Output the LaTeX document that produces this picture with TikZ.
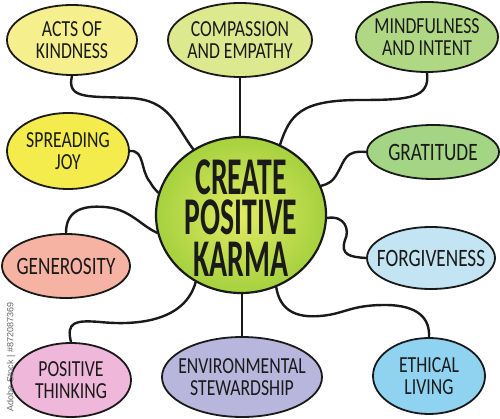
\documentclass[tikz,border=0pt]{standalone}
\usepackage{fontspec}
\usetikzlibrary{shapes.geometric}
\newfontfamily\handfont[FakeStretch=0.77]{Carlito}
\newfontfamily\bigfont[FakeStretch=0.56]{Carlito}
\newfontfamily\wmfont{Liberation Sans}
\definecolor{cAK}{HTML}{F5EF8E}
\definecolor{cCO}{HTML}{DDE98F}
\definecolor{cMI}{HTML}{AFD784}
\definecolor{cGR}{HTML}{A3D585}
\definecolor{cSJ}{HTML}{F3EC4C}
\definecolor{cGE}{HTML}{F6B3A3}
\definecolor{cFO}{HTML}{C3E4F3}
\definecolor{cPT}{HTML}{EFB8DA}
\definecolor{cEN}{HTML}{B9B6DD}
\definecolor{cET}{HTML}{8FD3F1}
\definecolor{cIn}{HTML}{E2EB62}
\definecolor{cOut}{HTML}{A6D13E}
\definecolor{ink}{HTML}{1A1A1A}
\tikzset{
  bubble/.style={ellipse, draw=ink, line width=1.8pt, inner sep=0pt},
  lbl/.style={font=\handfont\fontsize{23}{22}\selectfont, text=ink, align=center, inner sep=0pt},
  lblone/.style={font=\handfont\fontsize{25}{22}\selectfont, text=ink, align=center, inner sep=0pt},
  bigtxt/.style={font=\bigfont\bfseries\fontsize{53}{42}\selectfont, text=ink, inner sep=0pt, text height=34pt, text depth=0pt},
  link/.style={draw=ink, line width=2.4pt, line cap=round}
}
\begin{document}
\begin{tikzpicture}[x=1pt,y=-1pt]
\useasboundingbox (0,0) rectangle (500,419);
% central
\node[ellipse, draw=ink, line width=2.2pt, inner sep=0pt, minimum width=170pt, minimum height=156pt,
  inner color=cIn, outer color=cOut] (c) at (241,215) {};
\node[bigtxt] (ct1) at (241,178) {CREATE};
\node[bigtxt] (ct2) at (241,218) {POSITIVE};
\node[bigtxt] (ct3) at (241,260) {KARMA};
% bubbles
\node[bubble, fill=cAK, minimum width=130pt, minimum height=70pt] (ak) at (72,40) {};
\node[bubble, fill=cCO, minimum width=144pt, minimum height=74pt] (co) at (240,40) {};
\node[bubble, fill=cMI, minimum width=142pt, minimum height=70pt] (mi) at (427,37) {};
\node[bubble, fill=cGR, minimum width=132pt, minimum height=54pt] (gr) at (433,152) {};
\node[bubble, fill=cSJ, minimum width=122pt, minimum height=76pt] (sj) at (68,151) {};
\node[bubble, fill=cGE, minimum width=128pt, minimum height=64pt] (ge) at (66,266) {};
\node[bubble, fill=cFO, minimum width=128pt, minimum height=62pt] (fo) at (431,258) {};
\node[bubble, fill=cPT, minimum width=120pt, minimum height=74pt] (pt) at (71,380) {};
\node[bubble, fill=cEN, minimum width=160pt, minimum height=80pt] (en) at (242,377) {};
\node[bubble, fill=cET, minimum width=112pt, minimum height=76pt] (et) at (429,376) {};
% labels
\node[lbl] (akt) at (ak.center) {ACTS OF\\KINDNESS};
\node[lbl] (cot) at (co.center) {COMPASSION\\AND EMPATHY};
\node[lbl] (mit) at (mi.center) {MINDFULNESS\\AND INTENT};
\node[lblone] (grt) at (gr.center) {GRATITUDE};
\node[lbl] (sjt) at (sj.center) {SPREADING\\JOY};
\node[lblone] (get) at (ge.center) {GENEROSITY};
\node[lblone] (fot) at (fo.center) {FORGIVENESS};
\node[lbl] (ptt) at (pt.center) {POSITIVE\\THINKING};
\node[lbl] (ent) at (en.center) {ENVIRONMENTAL\\STEWARDSHIP};
\node[lbl] (ett) at (et.center) {ETHICAL\\LIVING};
% connectors
\draw[link] (ak.south) .. controls (66,100) and (90,96) .. (130,98) .. controls (170,100) and (175,125) .. (c.126);
\draw[link] (co.south) -- (co.south |- c.north);
\draw[link] (mi.south) .. controls (430,98) and (410,100) .. (360,100) .. controls (300,100) and (290,115) .. (c.61);
\draw[link] (gr.west) .. controls (345,150) and (345,160) .. (338,172) .. controls (333,182) and (328,184) .. (c.20);
\draw[link] (sj.east) .. controls (145,150) and (140,170) .. (150,182) .. controls (153,187) .. (c.165);
\draw[link] (ge.north) .. controls (66,212) and (80,205) .. (105,207) .. controls (130,209) and (140,225) .. (c.192);
\draw[link] (c.-2) .. controls (345,215) and (350,230) .. (345,240) .. controls (340,255) and (350,257) .. (fo.west);
\draw[link] (pt.north) .. controls (66,322) and (75,320) .. (100,322) .. controls (140,326) and (185,320) .. (c.236);
\draw[link] (en.north |- c.south) -- (en.north);
\draw[link] (c.296) .. controls (280,310) and (295,318) .. (320,316) .. controls (345,314) and (350,305) .. (385,305) .. controls (420,305) and (430,320) .. (et.north);
% watermark
\node[font=\wmfont\fontsize{9}{9}\selectfont, text=black!60, rotate=90, inner sep=0pt] (wm) at (11,357) {Adobe Stock | \#872087369};
\end{tikzpicture}
\end{document}
